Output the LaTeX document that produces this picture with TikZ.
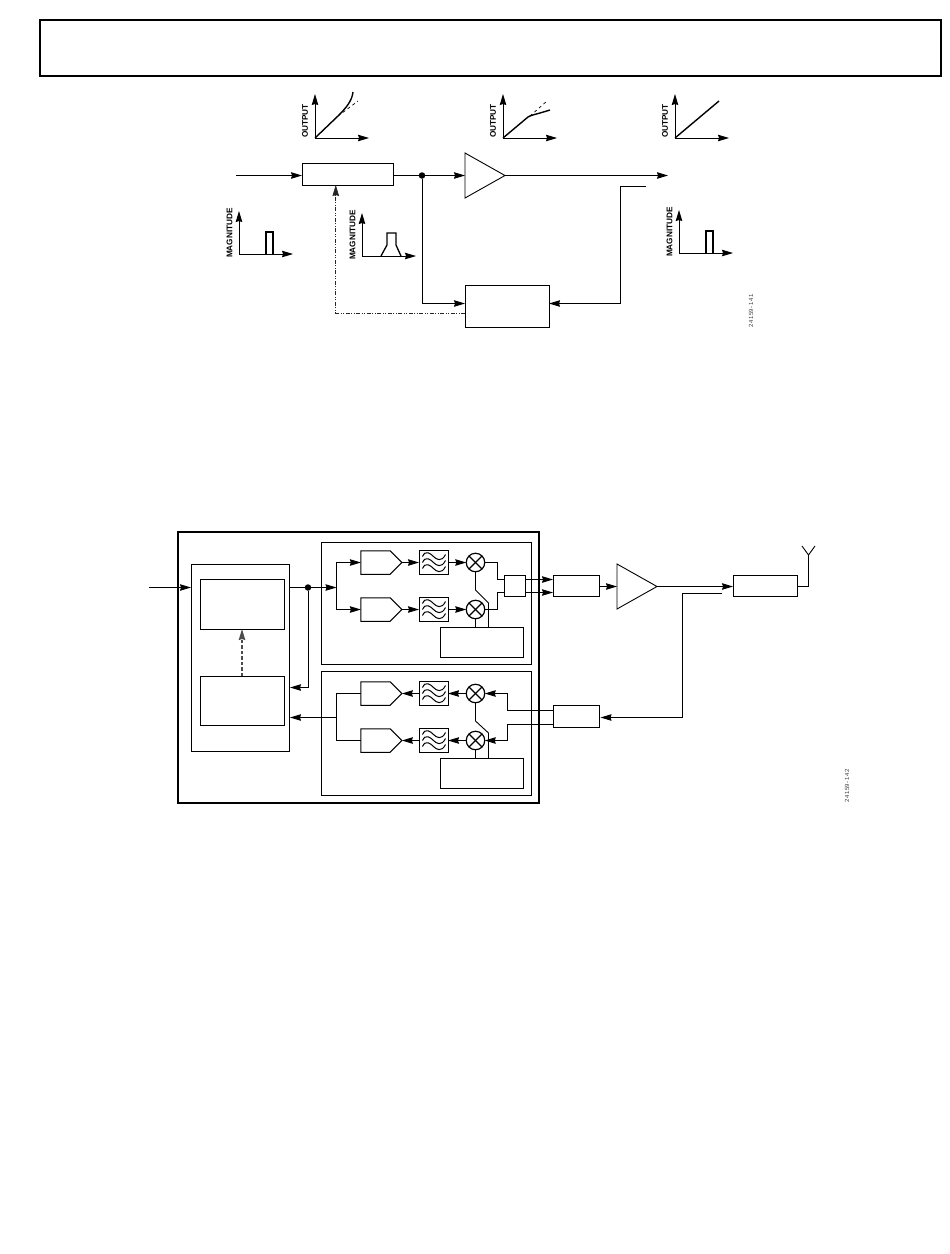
\documentclass[tikz,border=0pt]{standalone}
\usepackage{fontspec}
\setmainfont{Liberation Sans}
\newfontfamily\codefont[LetterSpace=9]{Liberation Sans}
\usetikzlibrary{arrows.meta, calc, shapes.geometric, shapes.symbols}

\tikzset{
    blockbox/.style = {draw = black, rectangle, inner sep = 0pt, outer sep = 0pt, line width = 0.9pt},
    dacblock/.style = {draw = black, line width = 1pt, signal, signal to = east, signal from = nowhere,
        signal pointer angle = 90, inner sep = 0pt, outer sep = 0pt, minimum width = 41pt, minimum height = 23.5pt},
    filterblock/.style = {blockbox, minimum width = 29pt, minimum height = 24pt,
        path picture = {
            \foreach \dy in {-6,0,6} {
                \draw[line width = 1pt, shift = {(path picture bounding box.center)}]
                    (-11,\dy) .. controls (-8,\dy-7) and (-3,\dy-3) .. (0,\dy)
                    .. controls (3,\dy+3) and (8,\dy+6) .. (12,\dy-2);
            }
        }},
    mixerblock/.style = {draw = black, circle, line width = 1.2pt, inner sep = 0pt, outer sep = 0pt, minimum size = 18.5pt,
        path picture = {
            \draw[line width = 1.1pt] (path picture bounding box.north west) -- (path picture bounding box.south east);
            \draw[line width = 1.1pt] (path picture bounding box.north east) -- (path picture bounding box.south west);
        }},
    ampblock/.style = {draw = black, line width = 0.9pt, isosceles triangle, isosceles triangle stretches,
        inner sep = 0pt, outer sep = 0pt, minimum width = 45pt, minimum height = 40pt, anchor = apex},
    junction/.style = {circle, fill = black, inner sep = 0pt, minimum size = 6.5pt},
    wire/.style = {line width = 0.9pt},
    plotlabel/.style = {font = \bfseries\fontsize{8.2}{8.2}\selectfont, rotate = 90, inner sep = 0pt},
    figcode/.style = {font = \codefont\fontsize{6}{6}\selectfont, rotate = 90, inner sep = 0pt, text = black!75},
    pics/outplot/.style = {code = {
        \draw[wire, <->] (0,-44) |- (54,0);
        \node[plotlabel] (-label) at (-10,-17) {OUTPUT};
    }},
    pics/magplot/.style = {code = {
        \draw[wire, <->] (0,-43) |- (54,0);
        \node[plotlabel] (-label) at (-9.5,-21) {MAGNITUDE};
    }}
}

\begin{document}
\begin{tikzpicture}[
        x = 1pt, y = -1pt, % one unit is one pixel of the page
        > = {Stealth[length = 11pt, width = 6.5pt, inset = 1pt]}
    ]

    \useasboundingbox (0,0) rectangle (950,1254);

    \node[blockbox, line width = 1.2pt, minimum width = 901pt, minimum height = 56pt] (banner) at (490.5,48) {};

    % upper figure
    \node[blockbox, minimum width = 91.5pt, minimum height = 22pt] (predist) at (347.75,174) {};
    \node[ampblock] (amp) at (505,175.5) {};
    \node[blockbox, minimum width = 84pt, minimum height = 42pt] (adapt) at (507,306) {};
    \node[junction] (split) at (422,175.5) {};
    \coordinate (upin) at (236,175.5);
    \coordinate (upout) at (668,175.5);
    \coordinate (upfb) at (646,186.5);

    \draw[wire, ->] (upin) -- (predist.west |- upin);
    \draw[wire] (predist.east |- split) -- (split);
    \draw[wire, ->] (split) -- (amp.west |- split);
    \draw[wire, ->] (amp.apex) -- (upout);
    \draw[wire, ->] (split) |- ([yshift = 2.5pt]adapt.west);
    \draw[wire, ->] (upfb) -| (620.5,303.5) -- ([yshift = 2.5pt]adapt.east);
    \draw[line width = 0.6pt, ->, black!85, dash pattern = on 4pt off 1.5pt on 1pt off 1.5pt on 1pt off 1.5pt]
        ([yshift = -7pt]adapt.west) -| ([xshift = -12pt]predist.south);

    \pic (outa) at (315,138) {outplot};
    \pic (outb) at (503,138) {outplot};
    \pic (outc) at (675,138) {outplot};
    \pic (maga) at (239,254) {magplot};
    \pic (magb) at (362,256) {magplot};
    \pic (magc) at (679,253) {magplot};

    % curves inside the small plots
    \draw[line width = 1.4pt] (315,138) -- (338,116) .. controls (346,108) and (352,101) .. (353,92);
    \draw[line width = 0.7pt, dashed] (338,116) -- (358,101);
    \draw[line width = 1.4pt] (503,138) -- (528,117) .. controls (531,115) and (534,115) .. (550,110);
    \draw[line width = 0.7pt, dashed] (530,116) -- (547,101);
    \draw[line width = 1.4pt] (675,138) -- (719,101);
    \draw[line width = 1.3pt] (266,254) |- (273,232) -- (273,254);
    \draw[line width = 1.3pt] (381,256) -- (387,245) |- (396,233) -- (396,245) -- (401,256);
    \draw[line width = 1.3pt] (706,253) |- (713,231) -- (713,253);

    \node[figcode] (codea) at (751,311) {24159-141};

    % lower figure
    \node[blockbox, line width = 2pt, minimum width = 361pt, minimum height = 270.5pt] (chip) at (358.5,667.5) {};
    \node[blockbox, minimum width = 98pt, minimum height = 187pt] (digital) at (240,657.5) {};
    \node[blockbox, minimum width = 84pt, minimum height = 50pt] (dpdtop) at (242,604) {};
    \node[blockbox, minimum width = 84pt, minimum height = 49pt] (dpdbot) at (242,700.5) {};
    \node[blockbox, minimum width = 210pt, minimum height = 122pt] (txpath) at (426,603) {};
    \node[blockbox, minimum width = 210pt, minimum height = 124pt] (rxpath) at (426,733) {};

    \node[dacblock] (daca) at (375.5,562.5) {};
    \node[dacblock] (dacb) at (375.5,609.5) {};
    \node[dacblock] (adca) at (375.5,693.5) {};
    \node[dacblock] (adcb) at (375.5,740.5) {};
    \node[filterblock] (filta) at (433.5,562.5) {};
    \node[filterblock] (filtb) at (433.5,609.5) {};
    \node[filterblock] (filtc) at (433.5,693.5) {};
    \node[filterblock] (filtd) at (433.5,740.5) {};
    \node[mixerblock] (mixa) at (475.5,562.5) {};
    \node[mixerblock] (mixb) at (475.5,609.5) {};
    \node[mixerblock] (mixc) at (475.5,693.5) {};
    \node[mixerblock] (mixd) at (475.5,740.5) {};
    \node[blockbox, minimum width = 83pt, minimum height = 30pt] (lotx) at (481.5,642) {};
    \node[blockbox, minimum width = 83pt, minimum height = 30pt] (lorx) at (481.5,773) {};
    \node[blockbox, minimum width = 21.5pt, minimum height = 21pt] (combine) at (515,585.5) {};
    \node[blockbox, minimum width = 46.5pt, minimum height = 21pt] (upconv) at (576.25,585.5) {};
    \node[blockbox, minimum width = 46.5pt, minimum height = 22pt] (downconv) at (576.25,716) {};
    \node[ampblock] (pa) at (657,586.5) {};
    \node[blockbox, minimum width = 64.5pt, minimum height = 21pt] (duplexer) at (765.25,585.5) {};
    \node[junction] (tap) at (308,587.5) {};
    \coordinate (lowin) at (149,587.5);
    \coordinate (txsplit) at (336.5,587.5);
    \coordinate (rxjoin) at (336.5,717.5);
    \coordinate (lowfb) at (722,593.5);
    \coordinate (antbase) at (808.5,555);

    \draw[wire, ->] (lowin) -- (digital.west |- lowin);
    \draw[wire] (digital.east |- tap) -- (tap);
    \draw[wire, ->] (tap) -- (txsplit);
    \draw[wire, ->] (tap) |- (290,687.5);
    \draw[wire, ->] (rxjoin) -- (290,717.5);
    \draw[line width = 1.2pt, ->, black!70, dash pattern = on 3.5pt off 2pt] (dpdbot.north) -- (dpdtop.south);

    % transmit path
    \draw[wire, ->] (txsplit) |- (daca.west);
    \draw[wire, ->] (txsplit) |- (dacb.west);
    \draw[wire, ->] (daca.east) -- (filta.west);
    \draw[wire, ->] (dacb.east) -- (filtb.west);
    \draw[wire, ->] (filta.east) -- (mixa.west);
    \draw[wire, ->] (filtb.east) -- (mixb.west);
    \draw[wire] (mixa.east) -| (497.5,579.5) -- (combine.west |- 0,579.5);
    \draw[wire] (mixb.east) -| (497.5,592.5) -- (combine.west |- 0,592.5);
    \draw[wire] (mixa.south) -- (475.5,590) -- (488.5,603) -- (488.5,627);
    \draw[wire] (mixb.south) -- (mixb.south |- lotx.north);
    \draw[wire, ->] (combine.east |- 0,579.5) -- (upconv.west |- 0,579.5);
    \draw[wire, ->] (combine.east |- 0,592.5) -- (upconv.west |- 0,592.5);
    \draw[wire, ->] (upconv.east |- pa.apex) -- (pa.west |- pa.apex);
    \draw[wire, ->] (pa.apex) -- (duplexer.west |- pa.apex);
    \draw[wire] (duplexer.east |- pa.apex) -| (antbase);
    \draw[wire] (802,546) -- (antbase) -- (815,546);

    % receive path
    \draw[wire, ->] (lowfb) -| (682.5,717.5) -- ([xshift = 1pt]downconv.east |- 0,717.5);
    \draw[wire, ->] (downconv.west |- 0,710.5) -| (507.5,693.5) -- (mixc.east);
    \draw[wire, ->] (downconv.west |- 0,724.5) -| (507.5,740.5) -- (mixd.east);
    \draw[wire, ->] (mixc.west) -- (filtc.east);
    \draw[wire, ->] (mixd.west) -- (filtd.east);
    \draw[wire, ->] (filtc.west) -- (adca.east);
    \draw[wire, ->] (filtd.west) -- (adcb.east);
    \draw[wire] (adca.west) -| (rxjoin) |- (adcb.west);
    \draw[wire] (mixc.south) -- (475.5,721) -- (488.5,733) -- (488.5,758);
    \draw[wire] (mixd.south) -- (mixd.south |- lorx.north);

    \node[figcode] (codeb) at (847,786) {24159-142};

\end{tikzpicture}
\end{document}
